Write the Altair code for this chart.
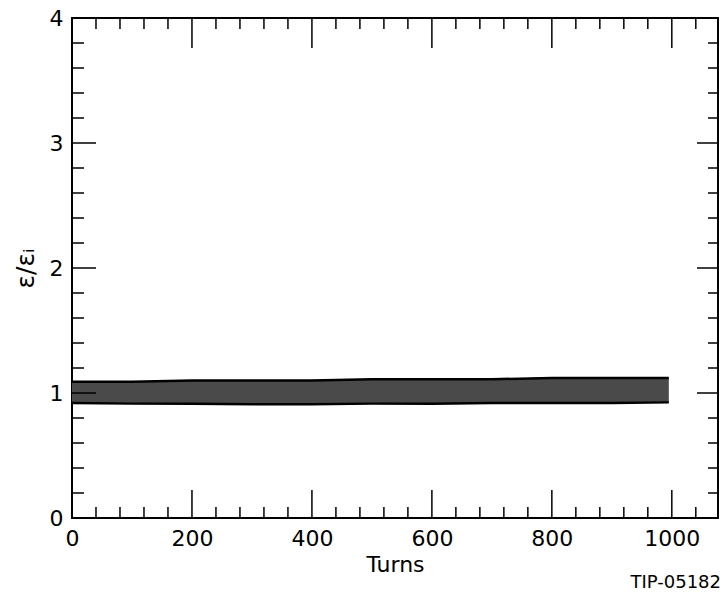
import altair as alt
import pandas as pd

# Envelope of the emittance band
turns = [0, 100, 200, 300, 400, 500, 600, 700, 800, 900, 995]
upper = [1.09, 1.09, 1.10, 1.10, 1.10, 1.11, 1.11, 1.11, 1.12, 1.12, 1.12]
lower = [0.92, 0.915, 0.915, 0.91, 0.91, 0.915, 0.915, 0.92, 0.92, 0.92, 0.925]

x_major = [0, 200, 400, 600, 800, 1000]
x_minor = [40, 80, 120, 160, 240, 280, 320, 360, 440, 480, 520, 560,
           640, 680, 720, 760, 840, 880, 920, 960, 1040]
y_major = [0, 1, 2, 3, 4]
y_minor = [0.2, 0.4, 0.6, 0.8, 1.2, 1.4, 1.6, 1.8, 2.2, 2.4, 2.6, 2.8,
           3.2, 3.4, 3.6, 3.8]

W, H = 646, 500
FONT = "DejaVu Sans"

xs = alt.Scale(domain=[0, 1077], nice=False, zero=False)
ys = alt.Scale(domain=[0, 4], nice=False)

XAX = alt.Axis(title="Turns", values=x_major, ticks=False, domain=False,
               grid=False, labelFontSize=22, titleFontSize=22,
               labelPadding=10, titlePadding=5, labelFlush=False,
               format="d", labelColor="black", titleColor="black",
               titleFontWeight="normal", labelFont=FONT, titleFont=FONT)
YAX = alt.Axis(title="ε/εᵢ", values=y_major, ticks=False, domain=False,
               grid=False, labelFontSize=22, titleFontSize=25,
               labelPadding=9, titlePadding=11, labelFlush=False,
               format="d", labelColor="black", titleColor="black",
               titleFontWeight="normal", labelFont=FONT, titleFont=FONT)

band_df = pd.DataFrame({"turn": turns, "upper": upper, "lower": lower})

band = alt.Chart(band_df).mark_area(color="#4a4a4a", opacity=1).encode(
    x=alt.X("turn:Q", scale=xs, axis=XAX),
    y=alt.Y("lower:Q", scale=ys, axis=YAX),
    y2="upper:Q",
)

up_line = alt.Chart(band_df).mark_line(color="black", strokeWidth=2.5).encode(
    x=alt.X("turn:Q", scale=xs, axis=XAX),
    y=alt.Y("upper:Q", scale=ys, axis=YAX),
)
lo_line = alt.Chart(band_df).mark_line(color="black", strokeWidth=2.5).encode(
    x=alt.X("turn:Q", scale=xs, axis=XAX),
    y=alt.Y("lower:Q", scale=ys, axis=YAX),
)

xmaj_df = pd.DataFrame({"turn": x_major[1:]})
xmin_df = pd.DataFrame({"turn": x_minor})
ymaj_df = pd.DataFrame({"lower": y_major[1:-1]})
ymin_df = pd.DataFrame({"lower": y_minor})

def xticks(df, y0, y1):
    return alt.Chart(df).mark_rule(color="black", strokeWidth=1.5).encode(
        x=alt.X("turn:Q", scale=xs, axis=XAX),
        y=alt.value(y0), y2=alt.value(y1))

def yticks(df, x0, x1):
    return alt.Chart(df).mark_rule(color="black", strokeWidth=1.5).encode(
        y=alt.Y("lower:Q", scale=ys, axis=YAX),
        x=alt.value(x0), x2=alt.value(x1))

ticks = [
    xticks(xmaj_df, H, H - 28), xticks(xmin_df, H, H - 11),
    xticks(xmaj_df, 0, 30), xticks(xmin_df, 0, 11),
    yticks(ymaj_df, 0, 24), yticks(ymin_df, 0, 12),
    yticks(ymaj_df, W, W - 21), yticks(ymin_df, W, W - 10),
]

tag = alt.Chart(pd.DataFrame({"s": ["TIP-05182"]})).mark_text(
    align="right", baseline="middle", fontSize=18, font="DejaVu Sans", color="black"
).encode(text="s:N", x=alt.value(W + 3), y=alt.value(H + 65))

chart = alt.layer(band, up_line, lo_line, *ticks, tag).properties(
    width=W, height=H,
    padding={"left": 72, "top": 18, "right": 6, "bottom": 75},
    autosize=alt.AutoSizeParams(type="none"),
    background="white",
).configure_view(stroke="black", strokeWidth=2)

chart.save("out.html", embed_options={"renderer": "svg", "actions": False})
